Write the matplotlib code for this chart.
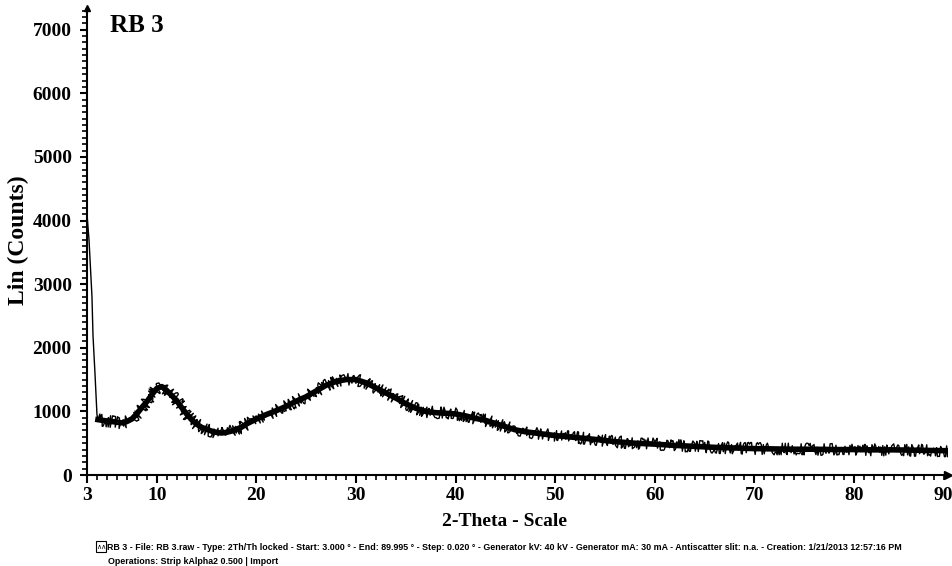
import matplotlib.pyplot as plt
from matplotlib.patches import Rectangle
from matplotlib.ticker import MultipleLocator

# 2-theta (deg) and intensity (counts)
two_theta = [3.0, 3.2, 3.5, 3.6, 3.8, 4.0, 4.1, 4.5, 5.0, 5.5, 6.0, 6.5, 7.0, 7.5,
             8.0, 8.5, 9.0, 9.5, 10.0, 10.5, 11.0, 11.5, 12.0, 12.5, 13.0, 13.5,
             14.0, 14.5, 15.0, 15.5, 16.0, 16.5, 17.0, 17.5, 18.0, 18.5, 19.0,
             19.5, 20.0, 21, 22, 23, 24, 25, 26, 27, 28, 29, 30, 31, 32, 33, 34,
             35, 36, 37, 38, 39, 40, 41, 42, 43, 44, 45, 46, 47, 48, 49, 50, 52,
             54, 56, 58, 60, 62, 64, 66, 68, 70, 72, 74, 76, 78, 80, 82, 84, 86,
             88, 89.995]
counts = [4100, 3700, 2800, 2200, 1600, 950, 870, 860, 850, 840, 830, 820, 840, 880,
          960, 1060, 1150, 1260, 1360, 1390, 1330, 1250, 1170, 1060, 960, 870,
          800, 750, 720, 690, 670, 660, 670, 690, 720, 750, 800,
          840, 880, 950, 1010, 1080, 1160, 1230, 1320, 1410, 1470, 1500, 1500,
          1450, 1370, 1290, 1210, 1120, 1050, 1000, 980, 970, 960, 930, 890,
          860, 810, 760, 710, 680, 660, 640, 620, 590, 560, 525, 500, 485, 465,
          450, 435, 425, 415, 410, 405, 405, 400, 400, 395, 395, 390, 385, 380]

x_ticks = [3, 10, 20, 30, 40, 50, 60, 70, 80]
y_ticks = [0, 1000, 2000, 3000, 4000, 5000, 6000, 7000]

serif = 'Liberation Serif'

fig = plt.figure(figsize=(9.53, 5.66), dpi=100)
ax = fig.add_axes([87 / 953, 91 / 566, 861 / 953, 467 / 566])

n_spike = 7
ax.plot(two_theta[:n_spike], counts[:n_spike], color='black', lw=1.0)
# counting noise drawn as a jagged band around the read curve
ax.plot(two_theta[n_spike - 1:], counts[n_spike - 1:], color='black', lw=4.0,
        solid_joinstyle='round')
noisy, = ax.plot(two_theta[n_spike - 1:], counts[n_spike - 1:], color='black', lw=1.0)
noisy.set_sketch_params(scale=6, length=0.7, randomness=2)

ax.set_xlim(3, 89.45)
ax.set_ylim(0, 7340)

for s in ['top', 'right']:
    ax.spines[s].set_visible(False)
for s in ['left', 'bottom']:
    ax.spines[s].set_linewidth(1.5)
ax.plot(1, 0, '>k', ms=6, transform=ax.transAxes, clip_on=False)
ax.plot(0, 1, '^k', ms=5, transform=ax.transAxes, clip_on=False)

ax.set_xticks(x_ticks)
ax.xaxis.set_minor_locator(MultipleLocator(1))
ax.set_yticks(y_ticks)
ax.yaxis.set_minor_locator(MultipleLocator(100))
ax.tick_params(axis='x', which='major', length=5.5, width=1.5, pad=3)
ax.tick_params(axis='x', which='minor', length=3.5, width=1.2)
ax.tick_params(axis='y', which='major', length=5, width=1.5, pad=6)
ax.tick_params(axis='y', which='minor', length=3.5, width=1.2)
for lab in ax.get_xticklabels() + ax.get_yticklabels():
    lab.set_fontfamily(serif)
    lab.set_fontweight('bold')
    lab.set_fontsize(14)
ax.annotate('90', xy=(0.9945, 0), xycoords='axes fraction', xytext=(0, -8.5),
            textcoords='offset points', ha='center', va='top',
            fontfamily=serif, fontweight='bold', fontsize=14)

ax.text(0.027, 0.962, 'RB 3', transform=ax.transAxes, ha='left', va='center',
        fontfamily=serif, fontweight='bold', fontsize=18)
fig.text(505 / 953, 1 - 522 / 566, '2-Theta - Scale', ha='center', va='center',
         fontfamily=serif, fontweight='bold', fontsize=14)
fig.text(18 / 953, 1 - 240 / 566, 'Lin (Counts)', ha='center', va='center',
         rotation=90, fontfamily=serif, fontweight='bold', fontsize=17)

# footer with scan info
fig.patches.append(Rectangle((96 / 953, 1 - 552 / 566), 10 / 953, 11 / 566,
                             transform=fig.transFigure, fill=False, lw=0.8,
                             edgecolor='black'))
fig.text(101 / 953, 1 - 547 / 566, '∧∧', ha='center', va='center', fontsize=5,
         fontfamily='DejaVu Sans')
foot_font = ['Liberation Sans Narrow', 'Liberation Sans']
fig.text(107 / 953, 1 - 547 / 566,
         'RB 3 - File: RB 3.raw - Type: 2Th/Th locked - Start: 3.000 ° - End: 89.995 ° '
         '- Step: 0.020 ° - Generator kV: 40 kV - Generator mA: 30 mA - Antiscatter '
         'slit: n.a. - Creation: 1/21/2013 12:57:16 PM',
         ha='left', va='center', fontsize=6.4, fontweight='bold', family=foot_font)
fig.text(108 / 953, 1 - 561 / 566, 'Operations: Strip kAlpha2 0.500 | Import',
         ha='left', va='center', fontsize=6.4, fontweight='bold', family=foot_font)

fig.savefig('out.png', dpi=100)
